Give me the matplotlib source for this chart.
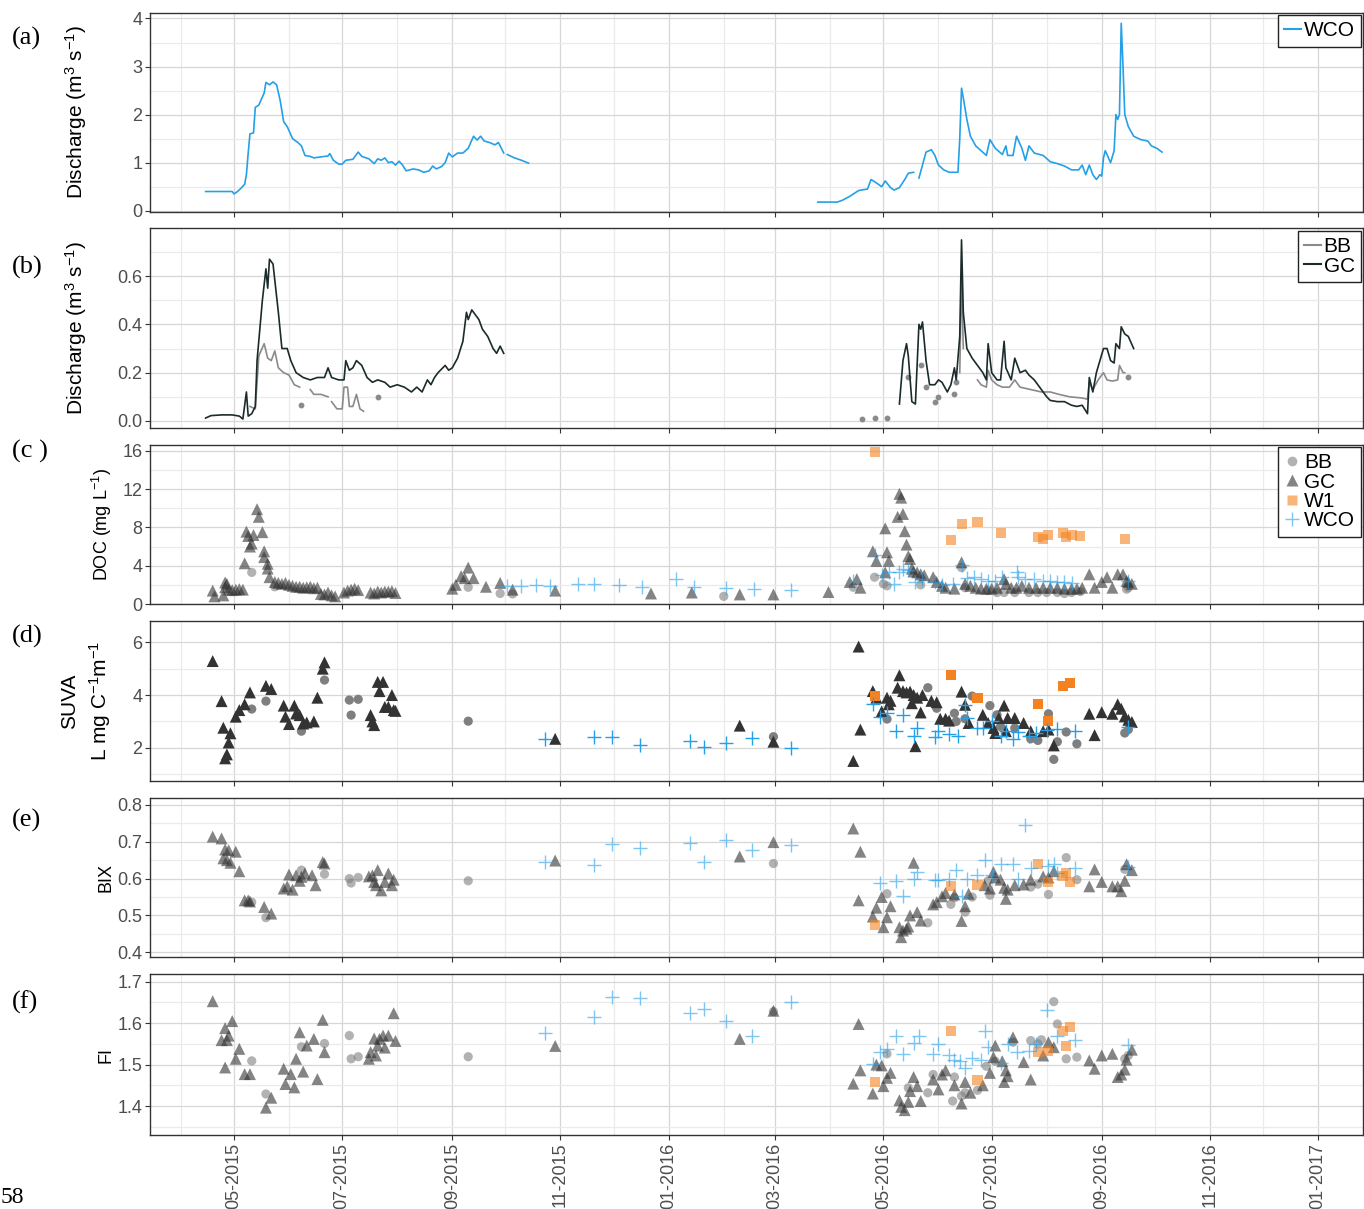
import numpy as np
import pandas as pd
import matplotlib
matplotlib.use('Agg')
import matplotlib.pyplot as plt
import matplotlib.dates as mdates
from matplotlib.lines import Line2D
from matplotlib.ticker import FixedLocator, FormatStrFormatter

plt.rcParams['font.family'] = ['Liberation Sans', 'DejaVu Sans']
plt.rcParams['mathtext.fontset'] = 'custom'
plt.rcParams['mathtext.rm'] = 'Liberation Sans'
plt.rcParams['mathtext.it'] = 'Liberation Sans:italic'
plt.rcParams['mathtext.bf'] = 'Liberation Sans:bold'

nan = np.nan

# ---------------- (a) discharge at WCO ----------------
wco_q = [
    ('2015-04-15', 0.40), ('2015-04-30', 0.40), ('2015-05-01', 0.35), ('2015-05-03', 0.40),
    ('2015-05-05', 0.47), ('2015-05-07', 0.55), ('2015-05-08', 0.75), ('2015-05-09', 1.20),
    ('2015-05-10', 1.60), ('2015-05-12', 1.62), ('2015-05-13', 2.15), ('2015-05-15', 2.20),
    ('2015-05-18', 2.45), ('2015-05-19', 2.67), ('2015-05-21', 2.62), ('2015-05-23', 2.68),
    ('2015-05-25', 2.62), ('2015-05-27', 2.30), ('2015-05-29', 1.85), ('2015-05-31', 1.75),
    ('2015-06-03', 1.50), ('2015-06-06', 1.42), ('2015-06-08', 1.35), ('2015-06-10', 1.15),
    ('2015-06-13', 1.13), ('2015-06-15', 1.10), ('2015-06-19', 1.12), ('2015-06-23', 1.14),
    ('2015-06-24', 1.19), ('2015-06-26', 1.05), ('2015-06-29', 0.97), ('2015-07-01', 0.97),
    ('2015-07-03', 1.05), ('2015-07-07', 1.07), ('2015-07-10', 1.22), ('2015-07-12', 1.13),
    ('2015-07-16', 1.08), ('2015-07-19', 0.98), ('2015-07-21', 1.08), ('2015-07-23', 1.05),
    ('2015-07-25', 1.10), ('2015-07-27', 1.00), ('2015-07-29', 1.02), ('2015-07-31', 0.95),
    ('2015-08-02', 1.03), ('2015-08-04', 0.95), ('2015-08-06', 0.83), ('2015-08-10', 0.87),
    ('2015-08-13', 0.85), ('2015-08-16', 0.80), ('2015-08-19', 0.83), ('2015-08-21', 0.93),
    ('2015-08-23', 0.87), ('2015-08-26', 0.92), ('2015-08-28', 1.00), ('2015-08-30', 1.20),
    ('2015-09-01', 1.12), ('2015-09-04', 1.20), ('2015-09-07', 1.20), ('2015-09-10', 1.30),
    ('2015-09-13', 1.55), ('2015-09-15', 1.47), ('2015-09-17', 1.55), ('2015-09-19', 1.45),
    ('2015-09-22', 1.42), ('2015-09-25', 1.37), ('2015-09-27', 1.42), ('2015-09-28', 1.35),
    ('2015-09-30', 1.20), ('2015-10-01', nan), ('2015-10-02', 1.17), ('2015-10-06', 1.10),
    ('2015-10-10', 1.05), ('2015-10-14', 0.99), ('2015-12-01', nan),
    ('2016-03-25', 0.18), ('2016-04-05', 0.18), ('2016-04-08', 0.22), ('2016-04-12', 0.30),
    ('2016-04-17', 0.42), ('2016-04-20', 0.44), ('2016-04-22', 0.45), ('2016-04-24', 0.65),
    ('2016-04-27', 0.58), ('2016-04-30', 0.50), ('2016-05-02', 0.62), ('2016-05-05', 0.48),
    ('2016-05-07', 0.43), ('2016-05-10', 0.48), ('2016-05-13', 0.65), ('2016-05-15', 0.78),
    ('2016-05-18', 0.80), ('2016-05-19', nan), ('2016-05-21', 0.68), ('2016-05-23', 0.95),
    ('2016-05-25', 1.22), ('2016-05-28', 1.27), ('2016-05-30', 1.15), ('2016-06-01', 0.95),
    ('2016-06-04', 0.85), ('2016-06-07', 0.80), ('2016-06-12', 0.80), ('2016-06-13', 1.50),
    ('2016-06-14', 2.55), ('2016-06-15', 2.35), ('2016-06-17', 1.90), ('2016-06-19', 1.55),
    ('2016-06-22', 1.35), ('2016-06-25', 1.25), ('2016-06-28', 1.15), ('2016-06-30', 1.48),
    ('2016-07-03', 1.30), ('2016-07-07', 1.17), ('2016-07-09', 1.35), ('2016-07-10', 1.15),
    ('2016-07-13', 1.15), ('2016-07-15', 1.55), ('2016-07-18', 1.30), ('2016-07-20', 1.05),
    ('2016-07-22', 1.35), ('2016-07-25', 1.20), ('2016-07-30', 1.15), ('2016-08-03', 1.02),
    ('2016-08-07', 0.98), ('2016-08-11', 0.93), ('2016-08-15', 0.85), ('2016-08-19', 0.85),
    ('2016-08-21', 0.95), ('2016-08-23', 0.75), ('2016-08-25', 0.95), ('2016-08-27', 0.75),
    ('2016-08-29', 0.65), ('2016-08-31', 0.75), ('2016-09-01', 0.72), ('2016-09-02', 1.10),
    ('2016-09-03', 1.25), ('2016-09-06', 1.00), ('2016-09-08', 1.25), ('2016-09-09', 2.00),
    ('2016-09-10', 1.90), ('2016-09-11', 2.00), ('2016-09-12', 3.90), ('2016-09-13', 3.00),
    ('2016-09-14', 2.00), ('2016-09-16', 1.75), ('2016-09-19', 1.55), ('2016-09-23', 1.48),
    ('2016-09-27', 1.45), ('2016-09-29', 1.35), ('2016-10-02', 1.30), ('2016-10-05', 1.22),
]

# ---------------- (b) discharge at GC and BB ----------------
gc_q = [
    ('2015-04-15', 0.012), ('2015-04-18', 0.022), ('2015-04-24', 0.025), ('2015-04-30', 0.025),
    ('2015-05-04', 0.020), ('2015-05-06', 0.008), ('2015-05-08', 0.12), ('2015-05-09', 0.02),
    ('2015-05-11', 0.03), ('2015-05-13', 0.06), ('2015-05-14', 0.25), ('2015-05-17', 0.50),
    ('2015-05-19', 0.63), ('2015-05-20', 0.55), ('2015-05-21', 0.67), ('2015-05-23', 0.65),
    ('2015-05-26', 0.45), ('2015-05-28', 0.30), ('2015-05-31', 0.30), ('2015-06-02', 0.25),
    ('2015-06-05', 0.20), ('2015-06-09', 0.18), ('2015-06-13', 0.17), ('2015-06-17', 0.18),
    ('2015-06-21', 0.18), ('2015-06-23', 0.22), ('2015-06-25', 0.18), ('2015-06-29', 0.17),
    ('2015-07-02', 0.17), ('2015-07-03', 0.25), ('2015-07-05', 0.21), ('2015-07-07', 0.22),
    ('2015-07-09', 0.25), ('2015-07-12', 0.23), ('2015-07-15', 0.18), ('2015-07-18', 0.16),
    ('2015-07-21', 0.17), ('2015-07-25', 0.16), ('2015-07-28', 0.14), ('2015-08-01', 0.15),
    ('2015-08-05', 0.14), ('2015-08-09', 0.12), ('2015-08-12', 0.14), ('2015-08-15', 0.12),
    ('2015-08-18', 0.17), ('2015-08-20', 0.15), ('2015-08-22', 0.18), ('2015-08-24', 0.20),
    ('2015-08-28', 0.23), ('2015-08-30', 0.21), ('2015-09-01', 0.22), ('2015-09-04', 0.26),
    ('2015-09-07', 0.33), ('2015-09-09', 0.45), ('2015-09-10', 0.42), ('2015-09-12', 0.46),
    ('2015-09-16', 0.42), ('2015-09-18', 0.38), ('2015-09-21', 0.35), ('2015-09-24', 0.30),
    ('2015-09-26', 0.28), ('2015-09-28', 0.31), ('2015-09-30', 0.28), ('2015-11-01', nan),
    ('2016-05-10', 0.07), ('2016-05-12', 0.25), ('2016-05-14', 0.32), ('2016-05-15', 0.27),
    ('2016-05-17', 0.08), ('2016-05-19', 0.07), ('2016-05-21', 0.40), ('2016-05-22', 0.38),
    ('2016-05-23', 0.41), ('2016-05-25', 0.25), ('2016-05-27', 0.15), ('2016-05-30', 0.15),
    ('2016-06-01', 0.17), ('2016-06-03', 0.16), ('2016-06-06', 0.12), ('2016-06-08', 0.15),
    ('2016-06-10', 0.22), ('2016-06-11', 0.17), ('2016-06-13', 0.35), ('2016-06-14', 0.75),
    ('2016-06-15', 0.45), ('2016-06-17', 0.30), ('2016-06-20', 0.26), ('2016-06-23', 0.23),
    ('2016-06-26', 0.20), ('2016-06-28', 0.17), ('2016-06-29', 0.32), ('2016-07-01', 0.20),
    ('2016-07-04', 0.17), ('2016-07-06', 0.17), ('2016-07-08', 0.33), ('2016-07-09', 0.22),
    ('2016-07-12', 0.17), ('2016-07-14', 0.26), ('2016-07-17', 0.20), ('2016-07-20', 0.21),
    ('2016-07-22', 0.19), ('2016-07-25', 0.17), ('2016-07-27', 0.15), ('2016-07-30', 0.12),
    ('2016-08-01', 0.10), ('2016-08-03', 0.085), ('2016-08-07', 0.08), ('2016-08-11', 0.08),
    ('2016-08-15', 0.065), ('2016-08-18', 0.06), ('2016-08-21', 0.065), ('2016-08-24', 0.03),
    ('2016-08-25', 0.18), ('2016-08-27', 0.12), ('2016-08-29', 0.20), ('2016-09-02', 0.30),
    ('2016-09-04', 0.30), ('2016-09-06', 0.25), ('2016-09-08', 0.24), ('2016-09-09', 0.32),
    ('2016-09-11', 0.30), ('2016-09-12', 0.39), ('2016-09-14', 0.36), ('2016-09-16', 0.35),
    ('2016-09-19', 0.30),
]

bb_q = [
    ('2015-05-10', 0.06), ('2015-05-13', 0.05), ('2015-05-15', 0.27), ('2015-05-18', 0.32),
    ('2015-05-20', 0.26), ('2015-05-22', 0.25), ('2015-05-24', 0.29), ('2015-05-26', 0.22),
    ('2015-05-29', 0.20), ('2015-06-01', 0.19), ('2015-06-04', 0.15), ('2015-06-07', 0.14),
    ('2015-06-10', nan), ('2015-06-13', 0.13), ('2015-06-15', 0.11), ('2015-06-19', 0.11),
    ('2015-06-23', 0.10), ('2015-06-24', nan), ('2015-06-25', 0.08), ('2015-06-28', 0.05),
    ('2015-07-01', 0.05), ('2015-07-02', 0.14), ('2015-07-04', 0.14), ('2015-07-05', 0.06),
    ('2015-07-07', 0.06), ('2015-07-09', 0.11), ('2015-07-11', 0.05), ('2015-07-13', 0.04),
    ('2015-08-01', nan),
    ('2016-06-13', 0.20), ('2016-06-14', 0.60), ('2016-06-15', 0.30), ('2016-06-18', nan),
    ('2016-06-23', 0.17), ('2016-06-25', 0.15), ('2016-06-28', 0.14), ('2016-06-29', 0.21),
    ('2016-07-01', 0.17), ('2016-07-04', 0.15), ('2016-07-07', 0.14), ('2016-07-11', 0.14),
    ('2016-07-14', 0.17), ('2016-07-17', 0.14), ('2016-07-23', 0.13), ('2016-07-29', 0.12),
    ('2016-08-03', 0.12), ('2016-08-08', 0.11), ('2016-08-14', 0.10), ('2016-08-21', 0.095),
    ('2016-08-24', 0.09), ('2016-08-25', 0.16), ('2016-08-27', 0.13), ('2016-08-30', 0.17),
    ('2016-09-02', 0.20), ('2016-09-04', 0.17), ('2016-09-07', 0.165), ('2016-09-10', 0.17),
    ('2016-09-11', 0.23), ('2016-09-13', 0.20), ('2016-09-14', 0.20),
]

# single days of BB discharge with no neighbours
bb_q_single = [
    ('2015-06-08', 0.065), ('2015-07-21', 0.10),
    ('2016-04-19', 0.008), ('2016-04-26', 0.012), ('2016-05-03', 0.012), ('2016-05-15', 0.18),
    ('2016-05-22', 0.23), ('2016-05-25', 0.14), ('2016-05-30', 0.08), ('2016-06-01', 0.10),
    ('2016-06-10', 0.11), ('2016-06-11', 0.16), ('2016-09-16', 0.18),
]

# ---------------- (c) DOC ----------------
gc_doc = [
    ('2015-04-19', 1.4), ('2015-04-20', 0.8), ('2015-04-25', 0.9), ('2015-04-26', 1.75),
    ('2015-04-26', 2.25), ('2015-04-27', 2.1), ('2015-04-28', 1.5), ('2015-04-30', 1.45),
    ('2015-05-02', 1.5), ('2015-05-04', 1.55), ('2015-05-06', 1.5), ('2015-05-07', 4.25),
    ('2015-05-08', 7.55), ('2015-05-09', 7.1), ('2015-05-10', 6.0), ('2015-05-11', 6.3),
    ('2015-05-12', 7.2), ('2015-05-14', 9.9), ('2015-05-15', 9.1), ('2015-05-17', 7.5),
    ('2015-05-18', 5.5), ('2015-05-18', 4.9), ('2015-05-20', 4.2), ('2015-05-20', 3.7),
    ('2015-05-21', 2.8), ('2015-05-24', 2.3), ('2015-05-26', 2.2), ('2015-05-28', 2.1),
    ('2015-05-30', 2.2), ('2015-06-01', 2.0), ('2015-06-03', 1.9), ('2015-06-05', 1.8),
    ('2015-06-07', 1.8), ('2015-06-09', 1.7), ('2015-06-11', 1.75), ('2015-06-13', 1.8),
    ('2015-06-15', 1.65), ('2015-06-17', 1.7), ('2015-06-19', 1.05), ('2015-06-21', 1.0),
    ('2015-06-23', 1.2), ('2015-06-25', 0.9), ('2015-06-27', 0.8), ('2015-07-02', 1.2),
    ('2015-07-04', 1.4), ('2015-07-06', 1.5), ('2015-07-08', 1.6), ('2015-07-10', 1.45),
    ('2015-07-17', 1.2), ('2015-07-19', 1.1), ('2015-07-21', 1.3), ('2015-07-23', 1.2),
    ('2015-07-25', 1.3), ('2015-07-27', 1.3), ('2015-07-29', 1.35), ('2015-07-31', 1.15),
    ('2015-09-01', 1.6), ('2015-09-03', 2.0), ('2015-09-06', 2.9), ('2015-09-08', 2.7),
    ('2015-09-10', 3.8), ('2015-09-13', 2.7), ('2015-09-20', 1.8), ('2015-09-28', 2.2),
    ('2015-10-05', 1.5), ('2015-10-29', 1.4), ('2015-12-22', 1.1), ('2016-01-14', 1.2),
    ('2016-02-10', 1.0), ('2016-02-29', 1.0), ('2016-03-31', 1.25),
    ('2016-04-12', 2.3), ('2016-04-16', 2.6), ('2016-04-18', 1.7), ('2016-04-25', 5.5),
    ('2016-04-27', 4.5), ('2016-05-02', 7.9), ('2016-05-03', 5.4), ('2016-05-04', 4.5),
    ('2016-05-02', 3.3), ('2016-05-10', 11.5), ('2016-05-11', 11.1), ('2016-05-12', 9.4),
    ('2016-05-09', 9.1), ('2016-05-13', 7.6), ('2016-05-14', 6.2), ('2016-05-15', 5.0),
    ('2016-05-16', 4.7), ('2016-05-17', 3.7), ('2016-05-18', 3.4), ('2016-05-20', 3.3),
    ('2016-05-22', 3.1), ('2016-05-24', 3.0), ('2016-05-29', 2.8), ('2016-05-31', 2.3),
    ('2016-06-03', 1.9), ('2016-06-05', 1.7), ('2016-06-10', 1.6), ('2016-06-14', 4.35),
    ('2016-06-16', 2.1), ('2016-06-19', 1.9), ('2016-06-22', 1.7), ('2016-06-25', 1.6),
    ('2016-06-28', 1.6), ('2016-07-01', 1.6), ('2016-07-04', 1.7), ('2016-07-08', 2.6),
    ('2016-07-09', 2.1), ('2016-07-12', 1.7), ('2016-07-15', 1.7), ('2016-07-18', 1.9),
    ('2016-07-22', 1.7), ('2016-07-26', 1.7), ('2016-07-30', 1.7), ('2016-08-03', 1.7),
    ('2016-08-07', 1.7), ('2016-08-11', 1.6), ('2016-08-15', 1.6), ('2016-08-18', 1.6),
    ('2016-08-21', 1.7), ('2016-08-25', 3.1), ('2016-08-28', 1.7), ('2016-09-01', 2.3),
    ('2016-09-04', 2.8), ('2016-09-07', 1.7), ('2016-09-10', 3.1), ('2016-09-13', 3.1),
    ('2016-09-15', 2.4), ('2016-09-16', 2.3), ('2016-09-18', 2.1),
]
bb_doc = [
    ('2015-05-11', 3.3), ('2015-05-24', 1.8), ('2015-09-10', 1.75), ('2015-09-28', 1.1),
    ('2015-10-05', 1.05), ('2016-02-01', 0.8),
    ('2016-04-14', 1.75), ('2016-04-26', 2.8), ('2016-05-01', 2.1), ('2016-05-03', 1.9),
    ('2016-05-22', 2.0), ('2016-06-14', 3.8), ('2016-06-16', 1.7), ('2016-06-29', 1.4),
    ('2016-07-04', 1.2), ('2016-07-08', 1.2), ('2016-07-14', 1.2), ('2016-07-22', 1.2),
    ('2016-07-27', 1.2), ('2016-08-01', 1.2), ('2016-08-07', 1.2), ('2016-08-11', 1.1),
    ('2016-08-15', 1.2), ('2016-08-20', 1.3), ('2016-09-15', 1.55), ('2016-09-16', 1.7),
]
w1_doc = [
    ('2016-04-26', 15.85), ('2016-06-08', 6.7), ('2016-06-14', 8.4), ('2016-06-23', 8.6),
    ('2016-07-06', 7.4), ('2016-07-27', 7.0), ('2016-07-30', 6.8), ('2016-08-02', 7.2),
    ('2016-08-10', 7.4), ('2016-08-12', 7.0), ('2016-08-15', 7.2), ('2016-08-20', 7.1),
    ('2016-09-14', 6.8),
]
wco_doc = [
    ('2015-10-02', 1.9), ('2015-10-10', 1.9), ('2015-10-18', 1.95), ('2015-10-26', 1.9),
    ('2015-11-11', 2.1), ('2015-11-20', 2.1), ('2015-12-04', 2.0), ('2015-12-17', 1.8),
    ('2016-01-05', 2.6), ('2016-01-15', 1.8), ('2016-02-02', 1.7), ('2016-02-18', 1.6),
    ('2016-03-10', 1.5),
    ('2016-04-14', 2.4), ('2016-04-26', 5.1), ('2016-04-30', 3.0), ('2016-05-04', 3.3),
    ('2016-05-07', 2.1), ('2016-05-10', 3.3), ('2016-05-12', 3.7), ('2016-05-15', 3.5),
    ('2016-05-19', 2.3), ('2016-05-23', 2.6), ('2016-05-30', 2.3), ('2016-06-03', 2.0),
    ('2016-06-09', 2.1), ('2016-06-14', 4.1), ('2016-06-17', 2.7), ('2016-06-21', 2.8),
    ('2016-06-25', 2.6), ('2016-06-29', 2.4), ('2016-07-03', 2.4), ('2016-07-07', 2.8),
    ('2016-07-15', 3.3), ('2016-07-16', 2.8), ('2016-07-20', 2.6), ('2016-07-25', 2.6),
    ('2016-07-30', 2.4), ('2016-08-03', 2.4), ('2016-08-07', 2.3), ('2016-08-11', 2.3),
    ('2016-08-15', 2.2), ('2016-09-16', 2.4),
]

# ---------------- (d) SUVA ----------------
gc_suva = [
    ('2015-04-19', 5.29), ('2015-04-24', 3.77), ('2015-04-25', 2.76), ('2015-04-26', 1.60),
    ('2015-04-27', 1.75), ('2015-04-28', 2.20), ('2015-04-29', 2.55), ('2015-05-02', 3.18),
    ('2015-05-04', 3.43), ('2015-05-07', 3.65), ('2015-05-10', 4.10), ('2015-05-19', 4.35),
    ('2015-05-22', 4.23), ('2015-05-29', 3.60), ('2015-05-30', 3.18), ('2015-06-01', 2.90),
    ('2015-06-04', 3.60), ('2015-06-05', 3.30), ('2015-06-07', 3.24), ('2015-06-09', 2.92),
    ('2015-06-11', 2.96), ('2015-06-15', 3.00), ('2015-06-17', 3.90), ('2015-06-20', 5.00),
    ('2015-06-21', 5.24), ('2015-07-17', 3.24), ('2015-07-18', 3.00), ('2015-07-19', 2.86),
    ('2015-07-21', 4.50), ('2015-07-22', 4.15), ('2015-07-24', 4.50), ('2015-07-25', 3.55),
    ('2015-07-27', 3.55), ('2015-07-29', 4.00), ('2015-07-30', 3.43), ('2015-07-31', 3.40),
    ('2015-10-29', 2.34), ('2016-02-10', 2.84), ('2016-02-29', 2.23),
    ('2016-04-14', 1.50), ('2016-04-17', 5.84), ('2016-04-18', 2.69), ('2016-04-25', 4.15),
    ('2016-04-27', 3.90), ('2016-04-30', 3.38), ('2016-05-03', 3.90), ('2016-05-04', 3.65),
    ('2016-05-05', 3.78), ('2016-05-10', 4.75), ('2016-05-09', 4.28), ('2016-05-12', 4.15),
    ('2016-05-14', 4.10), ('2016-05-16', 4.13), ('2016-05-17', 3.69), ('2016-05-18', 4.00),
    ('2016-05-20', 3.90), ('2016-05-22', 3.34), ('2016-05-23', 4.00), ('2016-05-19', 2.06),
    ('2016-05-28', 3.78), ('2016-05-31', 3.73), ('2016-06-02', 3.10), ('2016-06-05', 3.10),
    ('2016-06-07', 3.03), ('2016-06-14', 4.13), ('2016-06-16', 3.63), ('2016-06-18', 2.94),
    ('2016-06-26', 3.25), ('2016-06-29', 2.94), ('2016-07-02', 2.75), ('2016-07-03', 2.56),
    ('2016-07-05', 3.13), ('2016-07-08', 3.60), ('2016-07-09', 2.63), ('2016-07-10', 3.13),
    ('2016-07-14', 3.13), ('2016-07-19', 2.94), ('2016-07-23', 2.63), ('2016-07-30', 2.63),
    ('2016-08-02', 2.69), ('2016-08-05', 2.09), ('2016-08-25', 3.29), ('2016-08-28', 2.48),
    ('2016-09-01', 3.35), ('2016-09-07', 3.29), ('2016-09-10', 3.65), ('2016-09-12', 3.48),
    ('2016-09-14', 3.19), ('2016-09-16', 3.06), ('2016-09-18', 2.98),
]
bb_suva = [
    ('2015-05-11', 3.47), ('2015-05-19', 3.77), ('2015-06-08', 2.63), ('2015-06-21', 4.57),
    ('2015-07-05', 3.81), ('2015-07-06', 3.24), ('2015-07-10', 3.84), ('2015-09-10', 3.01),
    ('2016-02-29', 2.42), ('2016-05-03', 3.09), ('2016-05-26', 4.28), ('2016-05-31', 3.50),
    ('2016-06-10', 3.31), ('2016-06-11', 3.00), ('2016-06-20', 3.96), ('2016-06-16', 3.10),
    ('2016-06-30', 3.60), ('2016-07-04', 3.25), ('2016-07-06', 2.81), ('2016-07-14', 2.75),
    ('2016-07-23', 2.34), ('2016-07-27', 2.28), ('2016-08-02', 3.29), ('2016-08-05', 1.56),
    ('2016-08-07', 2.23), ('2016-08-12', 2.60), ('2016-08-18', 2.15), ('2016-09-14', 2.56),
    ('2016-09-16', 2.69),
]
w1_suva = [
    ('2016-04-26', 3.96), ('2016-06-08', 4.78), ('2016-06-23', 3.90), ('2016-07-27', 3.65),
    ('2016-08-02', 3.00), ('2016-08-10', 4.34), ('2016-08-14', 4.44),
]
wco_suva = [
    ('2015-10-23', 2.34), ('2015-11-20', 2.42), ('2015-11-30', 2.42), ('2015-12-16', 2.10),
    ('2016-01-13', 2.27), ('2016-01-21', 2.04), ('2016-02-02', 2.20), ('2016-02-17', 2.38),
    ('2016-03-10', 2.00), ('2016-04-25', 3.65), ('2016-04-29', 3.15), ('2016-05-03', 3.31),
    ('2016-05-08', 2.65), ('2016-05-12', 3.25), ('2016-05-18', 2.44), ('2016-05-20', 2.75),
    ('2016-05-30', 2.40), ('2016-06-01', 2.65), ('2016-06-07', 2.53), ('2016-06-12', 2.44),
    ('2016-06-16', 3.63), ('2016-06-17', 3.13), ('2016-06-23', 2.75), ('2016-06-26', 2.75),
    ('2016-07-01', 3.00), ('2016-07-06', 2.44), ('2016-07-09', 2.63), ('2016-07-13', 2.35),
    ('2016-07-16', 2.60), ('2016-07-22', 2.44), ('2016-07-26', 2.56), ('2016-08-01', 2.69),
    ('2016-08-07', 2.73), ('2016-08-17', 2.65), ('2016-09-16', 2.78),
]

# ---------------- (e) BIX ----------------
gc_bix = [
    ('2015-04-19', 0.714), ('2015-04-24', 0.709), ('2015-04-26', 0.679), ('2015-04-28', 0.677),
    ('2015-04-25', 0.655), ('2015-04-27', 0.650), ('2015-04-29', 0.643), ('2015-05-02', 0.673),
    ('2015-05-04', 0.620), ('2015-05-07', 0.541), ('2015-05-09', 0.541), ('2015-05-10', 0.538),
    ('2015-05-18', 0.523), ('2015-05-22', 0.505), ('2015-05-29', 0.573), ('2015-05-31', 0.579),
    ('2015-06-01', 0.611), ('2015-06-03', 0.570), ('2015-06-05', 0.609), ('2015-06-07', 0.594),
    ('2015-06-08', 0.605), ('2015-06-10', 0.614), ('2015-06-14', 0.609), ('2015-06-16', 0.582),
    ('2015-06-20', 0.645), ('2015-06-21', 0.641), ('2015-07-16', 0.606), ('2015-07-18', 0.609),
    ('2015-07-19', 0.591), ('2015-07-20', 0.582), ('2015-07-21', 0.623), ('2015-07-23', 0.568),
    ('2015-07-25', 0.591), ('2015-07-27', 0.614), ('2015-07-29', 0.582), ('2015-07-30', 0.597),
    ('2015-10-29', 0.649), ('2016-02-10', 0.660), ('2016-02-29', 0.699),
    ('2016-04-14', 0.736), ('2016-04-18', 0.673), ('2016-04-17', 0.541), ('2016-04-25', 0.497),
    ('2016-04-27', 0.521), ('2016-04-30', 0.550), ('2016-05-01', 0.468), ('2016-05-03', 0.495),
    ('2016-05-05', 0.525), ('2016-05-10', 0.468), ('2016-05-11', 0.441), ('2016-05-12', 0.459),
    ('2016-05-14', 0.464), ('2016-05-15', 0.470), ('2016-05-16', 0.500), ('2016-05-18', 0.643),
    ('2016-05-20', 0.509), ('2016-05-22', 0.486), ('2016-05-29', 0.530), ('2016-05-31', 0.536),
    ('2016-06-03', 0.552), ('2016-06-05', 0.561), ('2016-06-10', 0.557), ('2016-06-14', 0.485),
    ('2016-06-16', 0.525), ('2016-06-18', 0.559), ('2016-06-27', 0.582), ('2016-06-30', 0.573),
    ('2016-07-02', 0.618), ('2016-07-03', 0.603), ('2016-07-06', 0.597), ('2016-07-08', 0.575),
    ('2016-07-09', 0.545), ('2016-07-10', 0.570), ('2016-07-14', 0.582), ('2016-07-19', 0.584),
    ('2016-07-23', 0.597), ('2016-07-30', 0.606), ('2016-08-02', 0.603), ('2016-08-05', 0.620),
    ('2016-08-25', 0.579), ('2016-08-28', 0.625), ('2016-09-01', 0.591), ('2016-09-07', 0.579),
    ('2016-09-10', 0.579), ('2016-09-12', 0.566), ('2016-09-14', 0.594), ('2016-09-15', 0.639),
    ('2016-09-18', 0.623),
]
bb_bix = [
    ('2015-05-11', 0.536), ('2015-05-19', 0.494), ('2015-06-08', 0.623), ('2015-06-21', 0.612),
    ('2015-07-05', 0.600), ('2015-07-06', 0.588), ('2015-07-10', 0.603), ('2015-09-10', 0.594),
    ('2016-02-29', 0.641), ('2016-05-03', 0.559), ('2016-05-26', 0.480), ('2016-06-08', 0.530),
    ('2016-06-10', 0.548), ('2016-06-16', 0.509), ('2016-06-20', 0.550), ('2016-06-30', 0.555),
    ('2016-06-29', 0.594), ('2016-07-23', 0.577), ('2016-07-27', 0.585), ('2016-08-02', 0.557),
    ('2016-08-12', 0.657), ('2016-08-18', 0.597), ('2016-09-14', 0.625),
]
w1_bix = [
    ('2016-04-26', 0.473), ('2016-06-08', 0.579), ('2016-06-23', 0.582), ('2016-07-27', 0.639),
    ('2016-08-02', 0.591), ('2016-08-10', 0.606), ('2016-08-12', 0.615), ('2016-08-14', 0.591),
]
wco_bix = [
    ('2015-10-23', 0.645), ('2015-11-20', 0.638), ('2015-11-30', 0.693), ('2015-12-16', 0.682),
    ('2016-01-13', 0.696), ('2016-01-21', 0.644), ('2016-02-02', 0.704), ('2016-02-17', 0.677),
    ('2016-03-10', 0.690), ('2016-04-29', 0.588), ('2016-05-08', 0.594), ('2016-05-12', 0.552),
    ('2016-05-18', 0.600), ('2016-05-20', 0.618), ('2016-05-30', 0.597), ('2016-06-01', 0.597),
    ('2016-06-07', 0.600), ('2016-06-11', 0.623), ('2016-06-14', 0.552), ('2016-06-17', 0.600),
    ('2016-06-23', 0.609), ('2016-06-27', 0.650), ('2016-07-01', 0.609), ('2016-07-06', 0.639),
    ('2016-07-13', 0.641), ('2016-07-16', 0.600), ('2016-07-20', 0.745), ('2016-07-23', 0.630),
    ('2016-08-02', 0.634), ('2016-08-05', 0.639), ('2016-08-07', 0.615), ('2016-08-17', 0.630),
    ('2016-09-16', 0.632),
]

# ---------------- (f) FI ----------------
gc_fi = [
    ('2015-04-19', 1.653), ('2015-04-24', 1.559), ('2015-04-26', 1.493), ('2015-04-26', 1.588),
    ('2015-04-27', 1.559), ('2015-04-28', 1.570), ('2015-04-30', 1.605), ('2015-05-02', 1.514),
    ('2015-05-04', 1.538), ('2015-05-07', 1.477), ('2015-05-10', 1.477), ('2015-05-19', 1.396),
    ('2015-05-22', 1.420), ('2015-05-29', 1.490), ('2015-05-30', 1.453), ('2015-06-02', 1.477),
    ('2015-06-04', 1.445), ('2015-06-05', 1.514), ('2015-06-07', 1.578), ('2015-06-09', 1.483),
    ('2015-06-11', 1.546), ('2015-06-15', 1.562), ('2015-06-17', 1.465), ('2015-06-20', 1.608),
    ('2015-06-21', 1.530), ('2015-07-16', 1.514), ('2015-07-17', 1.530), ('2015-07-19', 1.563),
    ('2015-07-20', 1.522), ('2015-07-21', 1.546), ('2015-07-22', 1.562), ('2015-07-24', 1.570),
    ('2015-07-25', 1.541), ('2015-07-27', 1.570), ('2015-07-30', 1.624), ('2015-07-31', 1.557),
    ('2015-10-29', 1.545), ('2016-02-10', 1.562), ('2016-02-29', 1.630),
    ('2016-04-14', 1.454), ('2016-04-17', 1.598), ('2016-04-18', 1.486), ('2016-04-25', 1.430),
    ('2016-04-27', 1.500), ('2016-04-30', 1.498), ('2016-05-01', 1.448), ('2016-05-03', 1.468),
    ('2016-05-05', 1.480), ('2016-05-10', 1.414), ('2016-05-11', 1.398), ('2016-05-13', 1.390),
    ('2016-05-15', 1.410), ('2016-05-16', 1.436), ('2016-05-18', 1.470), ('2016-05-20', 1.448),
    ('2016-05-22', 1.412), ('2016-05-29', 1.464), ('2016-06-01', 1.440), ('2016-06-03', 1.476),
    ('2016-06-05', 1.486), ('2016-06-10', 1.450), ('2016-06-14', 1.406), ('2016-06-16', 1.458),
    ('2016-06-19', 1.432), ('2016-06-26', 1.450), ('2016-06-30', 1.480), ('2016-07-03', 1.546),
    ('2016-07-02', 1.518), ('2016-07-07', 1.508), ('2016-07-09', 1.486), ('2016-07-08', 1.458),
    ('2016-07-10', 1.472), ('2016-07-13', 1.566), ('2016-07-19', 1.506), ('2016-07-23', 1.464),
    ('2016-07-30', 1.522), ('2016-08-02', 1.554), ('2016-08-05', 1.542), ('2016-08-25', 1.510),
    ('2016-08-28', 1.490), ('2016-09-01', 1.522), ('2016-09-07', 1.526), ('2016-09-10', 1.470),
    ('2016-09-12', 1.476), ('2016-09-14', 1.488), ('2016-09-15', 1.512), ('2016-09-18', 1.536),
]
bb_fi = [
    ('2015-05-11', 1.509), ('2015-05-19', 1.429), ('2015-06-08', 1.543), ('2015-06-21', 1.551),
    ('2015-07-05', 1.570), ('2015-07-06', 1.514), ('2015-07-10', 1.519), ('2015-09-10', 1.519),
    ('2016-02-29', 1.628), ('2016-05-03', 1.526), ('2016-05-15', 1.444), ('2016-05-26', 1.432),
    ('2016-05-29', 1.476), ('2016-06-09', 1.412), ('2016-06-10', 1.470), ('2016-06-14', 1.424),
    ('2016-06-16', 1.432), ('2016-06-23', 1.438), ('2016-06-28', 1.496), ('2016-07-03', 1.508),
    ('2016-07-13', 1.554), ('2016-07-23', 1.558), ('2016-07-27', 1.550), ('2016-07-29', 1.560),
    ('2016-08-05', 1.652), ('2016-08-07', 1.598), ('2016-08-12', 1.514), ('2016-08-18', 1.518),
    ('2016-09-14', 1.514), ('2016-09-16', 1.522),
]
w1_fi = [
    ('2016-04-26', 1.458), ('2016-06-08', 1.582), ('2016-06-23', 1.462), ('2016-07-27', 1.530),
    ('2016-08-02', 1.534), ('2016-08-10', 1.580), ('2016-08-12', 1.544), ('2016-08-14', 1.590),
]
wco_fi = [
    ('2015-10-23', 1.576), ('2015-11-20', 1.615), ('2015-11-30', 1.664), ('2015-12-16', 1.661),
    ('2016-01-13', 1.625), ('2016-01-21', 1.635), ('2016-02-02', 1.606), ('2016-02-17', 1.569),
    ('2016-03-10', 1.652), ('2016-04-25', 1.502), ('2016-04-29', 1.530), ('2016-05-03', 1.538),
    ('2016-05-08', 1.570), ('2016-05-12', 1.526), ('2016-05-18', 1.552), ('2016-05-21', 1.570),
    ('2016-05-29', 1.526), ('2016-06-01', 1.550), ('2016-06-07', 1.522), ('2016-06-10', 1.510),
    ('2016-06-13', 1.508), ('2016-06-16', 1.492), ('2016-06-20', 1.516), ('2016-06-25', 1.512),
    ('2016-06-27', 1.580), ('2016-06-29', 1.542), ('2016-07-06', 1.504), ('2016-07-10', 1.550),
    ('2016-07-15', 1.530), ('2016-07-22', 1.534), ('2016-07-26', 1.550), ('2016-08-01', 1.632),
    ('2016-08-07', 1.568), ('2016-08-17', 1.560), ('2016-09-16', 1.548),
]

sites = ['BB', 'GC', 'W1', 'WCO']

# ---------------- style ----------------
BB_COL = '#7f7f7f'
GC_COL = '#333333'
W1_COL = '#f58220'
WCO_COL = '#25a0e8'
COLS = {'BB': BB_COL, 'GC': GC_COL, 'W1': W1_COL, 'WCO': WCO_COL}
MARK = {
    'BB': dict(marker='o', s=44, edgecolors='none'),
    'GC': dict(marker='^', s=74, edgecolors='none'),
    'W1': dict(marker='s', s=52, edgecolors='none'),
    'WCO': dict(marker='+', s=115, linewidths=1.0),
}

W, H = 1364, 1209
X_LEFT = pd.Timestamp('2015-03-14 16:00')
X_RIGHT = pd.Timestamp('2017-01-26 06:00')
TICK_SIZE = 13


def split(pts):
    d, v = zip(*pts)
    return pd.to_datetime(list(d)), np.array(v, dtype=float)


def new_axes(fig, top, bottom):
    return fig.add_axes([150 / W, 1 - bottom / H, 1213 / W, (bottom - top) / H])


def style(ax, ylim, major, minor, fmt, bottom=False):
    ax.set_xlim(X_LEFT, X_RIGHT)
    ax.set_ylim(*ylim)
    ax.xaxis.set_major_locator(mdates.MonthLocator(bymonth=[1, 3, 5, 7, 9, 11]))
    ax.xaxis.set_minor_locator(mdates.MonthLocator(bymonth=[2, 4, 6, 8, 10, 12]))
    ax.xaxis.set_major_formatter(mdates.DateFormatter('%m-%Y'))
    ax.yaxis.set_major_locator(FixedLocator(major))
    ax.yaxis.set_minor_locator(FixedLocator(minor))
    ax.yaxis.set_major_formatter(FormatStrFormatter(fmt))
    ax.grid(True, which='major', color='#d7d7d7', lw=0.9)
    ax.grid(True, which='minor', color='#ebebeb', lw=0.9)
    ax.set_axisbelow(True)
    for s in ax.spines.values():
        s.set_color('#333333')
        s.set_linewidth(1.0)
    ax.tick_params(which='major', length=3.5, width=0.8, color='#333333',
                   labelsize=TICK_SIZE, labelcolor='#4d4d4d', pad=2)
    ax.tick_params(which='minor', length=0)
    if bottom:
        ax.tick_params(axis='x', labelbottom=True, labelrotation=90)
    else:
        ax.tick_params(axis='x', labelbottom=False)


def scatter_sites(ax, series, alpha):
    for site, pts in zip(sites, series):
        d, v = split(pts)
        ax.scatter(d, v, color=COLS[site], alpha=alpha, zorder=3, **MARK[site])


def legend_box(ax, handles, labels, right_px, top_px, ax_top, ax_bottom):
    w_ax = 1213
    h_ax = ax_bottom - ax_top
    leg = ax.legend(handles, labels, loc='upper right',
                    bbox_to_anchor=(1 - (1363 - right_px) / w_ax, 1 - (top_px - ax_top) / h_ax),
                    borderaxespad=0, fontsize=15, frameon=True, fancybox=False,
                    framealpha=1, edgecolor='#222222', handlelength=0.8,
                    handletextpad=0.15, labelspacing=0.02, borderpad=0.3)
    leg.get_frame().set_linewidth(1.0)
    return leg


fig = plt.figure(figsize=(W / 100, H / 100), dpi=100)

panels = [(12.7, 211.7), (228.3, 427.7), (445, 604.3), (621, 781), (798.3, 956.7), (974.3, 1135)]

# (a)
ax = new_axes(fig, *panels[0])
d, v = split(wco_q)
ax.plot(d, v, color=WCO_COL, lw=1.2)
style(ax, (-0.02, 4.12), [0, 1, 2, 3, 4], [0.5, 1.5, 2.5, 3.5], '%d')
legend_box(ax, [Line2D([], [], color=WCO_COL, lw=1.5)], ['WCO'], 1361, 15, *panels[0])

# (b)
ax = new_axes(fig, *panels[1])
d, v = split(bb_q)
ax.plot(d, v, color='#8a8a8a', lw=1.2)
d, v = split(bb_q_single)
ax.plot(d, v, ls='none', marker='o', ms=3.2, color='#8a8a8a')
d, v = split(gc_q)
ax.plot(d, v, color='#1b2b2b', lw=1.2)
style(ax, (-0.028, 0.798), [0.0, 0.2, 0.4, 0.6], [0.1, 0.3, 0.5, 0.7], '%.1f')
legend_box(ax, [Line2D([], [], color='#8a8a8a', lw=1.5), Line2D([], [], color='#1b2b2b', lw=1.5)],
           ['BB', 'GC'], 1361, 231, *panels[1])

# (c)
ax = new_axes(fig, *panels[2])
scatter_sites(ax, [bb_doc, gc_doc, w1_doc, wco_doc], 0.6)
style(ax, (-0.03, 16.6), [0, 4, 8, 12, 16], [2, 6, 10, 14], '%d')
handles = [Line2D([], [], ls='none', marker='o', ms=7, color=BB_COL, alpha=0.6, mec='none'),
           Line2D([], [], ls='none', marker='^', ms=8.5, color=GC_COL, alpha=0.6, mec='none'),
           Line2D([], [], ls='none', marker='s', ms=7, color=W1_COL, alpha=0.6, mec='none'),
           Line2D([], [], ls='none', marker='+', ms=10, color=WCO_COL, alpha=0.6, mew=1.0)]
legend_box(ax, handles, sites, 1361, 447, *panels[2])

# (d)
ax = new_axes(fig, *panels[3])
scatter_sites(ax, [bb_suva, gc_suva, w1_suva, wco_suva], 1.0)
style(ax, (0.74, 6.81), [2, 4, 6], [1, 3, 5], '%d')

# (e)
ax = new_axes(fig, *panels[4])
scatter_sites(ax, [bb_bix, gc_bix, w1_bix, wco_bix], 0.6)
style(ax, (0.388, 0.818), [0.4, 0.5, 0.6, 0.7, 0.8], [0.45, 0.55, 0.65, 0.75], '%.1f')

# (f)
ax = new_axes(fig, *panels[5])
scatter_sites(ax, [bb_fi, gc_fi, w1_fi, wco_fi], 0.6)
style(ax, (1.33, 1.718), [1.4, 1.5, 1.6, 1.7], [1.35, 1.45, 1.55, 1.65], '%.1f', bottom=True)

# axis titles
def ylab(x_px, top, bottom, text, size):
    fig.text(x_px / W, 1 - (top + bottom) / 2 / H, text, rotation=90,
             ha='center', va='center', fontsize=size, color='black')

ylab(76, *panels[0], 'Discharge (m$^3$ s$^{-1}$)', 15)
ylab(76, *panels[1], 'Discharge (m$^3$ s$^{-1}$)', 15)
ylab(102, *panels[2], 'DOC (mg L$^{-1}$)', 13)
ylab(70, *panels[3], 'SUVA', 15)
ylab(100, *panels[3], 'L mg C$^{-1}$m$^{-1}$', 15)
ylab(106, *panels[4], 'BIX', 13)
ylab(106, *panels[5], 'FI', 13)

# panel letters
letters = ['(a)', '(b)', '(c )', '(d)', '(e)', '(f)']
letter_y = [38, 267, 451, 636, 820, 1002]
for lab, yy in zip(letters, letter_y):
    fig.text(12 / W, 1 - yy / H, lab, ha='left', va='center', fontsize=19,
             family='Liberation Serif')
fig.text(1 / W, 1 - 1203 / H, '58', ha='left', va='baseline', fontsize=17,
         family='Liberation Serif')

fig.savefig('out.png', dpi=100)
